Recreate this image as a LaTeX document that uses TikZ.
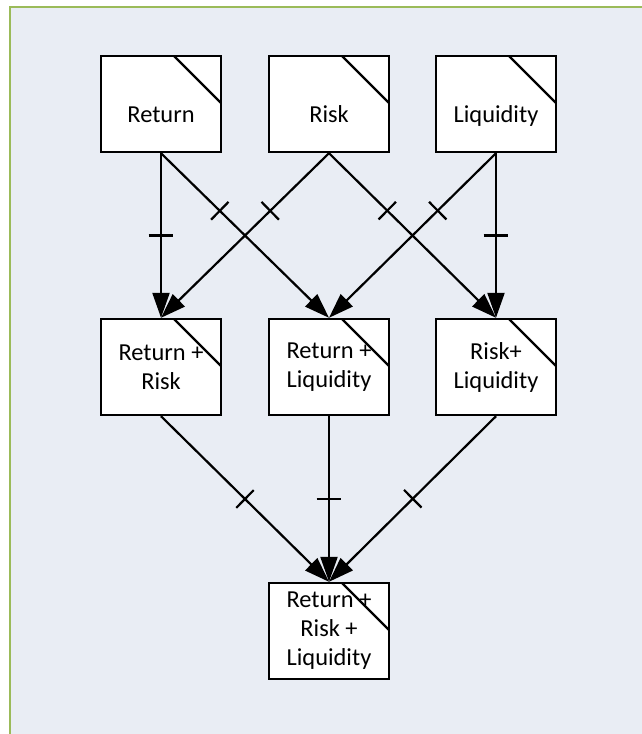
\documentclass[tikz,border=0pt]{standalone}
\usepackage{fontspec}
\setmainfont{Carlito}
\usetikzlibrary{arrows.meta}
\usetikzlibrary{decorations.markings}
\definecolor{bgfill}{HTML}{E9EDF4}
\definecolor{bgline}{HTML}{9BBB59}
\tikzset{bx/.style={draw, fill=white, line width=1.2pt, minimum width=60pt, minimum height=48pt, inner sep=2pt, align=center,
  path picture={\draw[line width=1.1pt] ([xshift=-23.5pt]path picture bounding box.north east) -- ([yshift=-23.5pt]path picture bounding box.north east);}}}
\tikzset{lo/.style={text height=20pt, text depth=2pt}}
\tikzset{ar/.style={line width=1.1pt, -{Triangle[length=12.5pt,width=8.5pt]}}}
\tikzset{tk/.style={postaction={decorate}, decoration={markings, mark=at position #1 with {\draw[-, line width=1.1pt] (0,-6.2pt) -- (0,6.2pt);}}}}

\begin{document}
\begin{tikzpicture}
        \begin{scope}[x=.5pt, y=-.5pt, font=\fontsize{12.2}{14.5}\selectfont]
          \clip (0,0) rectangle (642,734);
          \fill[white] (0,0) rectangle (642,734);
          \filldraw[draw=bgline, fill=bgfill, line width=1.2pt] (10,7) rectangle (660,750);
          % top row
          \node [bx, lo] (ret) at (161, 104) {Return};
          \node [bx, lo] (risk) at (329, 104) {Risk};
          \node [bx, lo] (liq) at (496, 104) {Liquidity};
          % middle row
          \node [bx] (retrisk) at (161, 367) {Return +\\Risk};
          \node [bx] (retliq) at (329, 367) {Return +\\Liquidity};
          \node [bx] (riskliq) at (496, 367) {Risk+\\Liquidity};
          % bottom
          \node [bx] (all) at (329, 631) {Return +\\Risk +\\Liquidity};
          \path (ret.south) edge [ar, tk=.5] (retrisk.north)
                            edge [ar, tk=.35] (retliq.north);
          \path (risk.south) edge [ar, tk=.35] (retrisk.north)
                             edge [ar, tk=.35] (riskliq.north);
          \path (liq.south) edge [ar, tk=.35] (retliq.north)
                            edge [ar, tk=.5] (riskliq.north);
          \path (retrisk.south) edge [ar, tk=.5] (all.north);
          \path (retliq.south) edge [ar, tk=.5] (all.north);
          \path (riskliq.south) edge [ar, tk=.5] (all.north);
        \end{scope}
\end{tikzpicture}
\end{document}
